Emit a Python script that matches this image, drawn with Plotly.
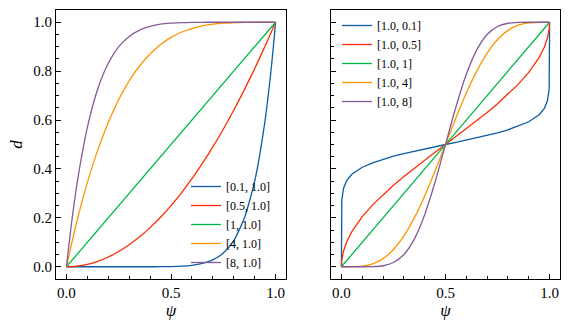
import plotly.graph_objects as go

# ---- data ----
psi = [0, 0.002, 0.01, 0.025, 0.05, 0.1, 0.15, 0.2, 0.25, 0.3, 0.35, 0.4, 0.45, 0.5,
       0.55, 0.6, 0.65, 0.7, 0.75, 0.8, 0.85, 0.9, 0.95, 0.975, 0.99, 0.998, 1.0]

left_names = ["[0.1, 1.0]", "[0.5, 1.0]", "[1, 1.0]", "[4, 1.0]", "[8, 1.0]"]
left_a01 = [0, 0, 0, 0, 0, 0, 0, 0, 0, 0, 0, 0.0001, 0.0003, 0.001, 0.0025, 0.006, 0.0135,
            0.028, 0.056, 0.107, 0.197, 0.349, 0.599, 0.776, 0.904, 0.980, 1.0]
left_a05 = [0, 0, 0.0001, 0.0006, 0.0025, 0.01, 0.0225, 0.04, 0.0625, 0.09, 0.1225, 0.16,
            0.2025, 0.25, 0.3025, 0.36, 0.4225, 0.49, 0.5625, 0.64, 0.7225, 0.81, 0.9025,
            0.9506, 0.9801, 0.996, 1.0]
left_a1 = [0, 0.002, 0.01, 0.025, 0.05, 0.1, 0.15, 0.2, 0.25, 0.3, 0.35, 0.4, 0.45, 0.5,
           0.55, 0.6, 0.65, 0.7, 0.75, 0.8, 0.85, 0.9, 0.95, 0.975, 0.99, 0.998, 1.0]
left_a4 = [0, 0.008, 0.039, 0.096, 0.186, 0.344, 0.478, 0.590, 0.684, 0.760, 0.822, 0.870,
           0.909, 0.938, 0.959, 0.974, 0.985, 0.992, 0.996, 0.998, 0.9995, 0.9999, 1.0,
           1.0, 1.0, 1.0, 1.0]
left_a8 = [0, 0.016, 0.077, 0.183, 0.337, 0.570, 0.728, 0.832, 0.900, 0.942, 0.968, 0.983,
           0.992, 0.996, 0.998, 0.9993, 0.9998, 0.9999, 1.0, 1.0, 1.0, 1.0, 1.0, 1.0, 1.0,
           1.0, 1.0]

right_names = ["[1.0, 0.1]", "[1.0, 0.5]", "[1.0, 1]", "[1.0, 4]", "[1.0, 8]"]
right_b01 = [0, 0.273, 0.320, 0.352, 0.378, 0.407, 0.425, 0.440, 0.452, 0.463, 0.473, 0.482,
             0.491, 0.5, 0.509, 0.518, 0.527, 0.537, 0.548, 0.560, 0.575, 0.593, 0.622,
             0.648, 0.680, 0.727, 1.0]
right_b05 = [0, 0.0285, 0.0638, 0.1011, 0.1436, 0.2048, 0.2532, 0.2952, 0.3333, 0.3690,
             0.4030, 0.4359, 0.4681, 0.5, 0.5319, 0.5641, 0.5970, 0.6310, 0.6667, 0.7048,
             0.7468, 0.7952, 0.8564, 0.8989, 0.9362, 0.9715, 1.0]
right_b1 = [0, 0.002, 0.01, 0.025, 0.05, 0.1, 0.15, 0.2, 0.25, 0.3, 0.35, 0.4, 0.45, 0.5,
            0.55, 0.6, 0.65, 0.7, 0.75, 0.8, 0.85, 0.9, 0.95, 0.975, 0.99, 0.998, 1.0]
right_b4 = [0, 0, 0, 0, 0.0002, 0.0027, 0.0121, 0.0333, 0.0706, 0.1260, 0.1998, 0.2898,
            0.3917, 0.5, 0.6083, 0.7102, 0.8002, 0.8740, 0.9294, 0.9667, 0.9879, 0.9973,
            0.9998, 1.0, 1.0, 1.0, 1.0]
right_b8 = [0, 0, 0, 0, 0, 0, 0.0006, 0.0042, 0.0173, 0.0500, 0.1132, 0.2131, 0.3465, 0.5,
            0.6535, 0.7869, 0.8868, 0.9500, 0.9827, 0.9958, 0.9994, 1.0, 1.0, 1.0, 1.0,
            1.0, 1.0]

x_ticks = [0.0, 0.5, 1.0]
y_ticks = [0.0, 0.2, 0.4, 0.6, 0.8, 1.0]

colors = ["#0C5DA5", "#FF2C00", "#00B945", "#FF9500", "#845B97"]
left_series = [left_a01, left_a05, left_a1, left_a4, left_a8]
right_series = [right_b01, right_b05, right_b1, right_b4, right_b8]
left_shapes = ["spline", "spline", "linear", "spline", "spline"]
right_shapes = ["linear", "linear", "linear", "spline", "spline"]

FONT = "Liberation Serif, serif"

fig = go.Figure()
for name, vals, col, shp in zip(left_names, left_series, colors, left_shapes):
    fig.add_trace(go.Scatter(x=psi, y=vals, mode="lines", name=name,
                             line=dict(color=col, width=1.3, shape=shp, smoothing=0.6),
                             xaxis="x", yaxis="y", legend="legend"))
for name, vals, col, shp in zip(right_names, right_series, colors, right_shapes):
    fig.add_trace(go.Scatter(x=psi, y=vals, mode="lines", name=name,
                             line=dict(color=col, width=1.3, shape=shp, smoothing=0.6),
                             xaxis="x2", yaxis="y2", legend="legend2"))

W, H = 569, 329
ydom = [(H - 279) / H, (H - 10) / H]

def xax(domain, anchor):
    return dict(domain=domain, anchor=anchor, range=[-0.05, 1.05],
                tickvals=x_ticks, ticktext=["0.0", "0.5", "1.0"],
                ticks="inside", ticklen=5, tickwidth=1, tickcolor="black",
                minor=dict(ticks="inside", ticklen=3, tickwidth=1, dtick=0.1, tick0=0,
                           tickcolor="black", showgrid=False),
                showline=True, mirror=True, linecolor="black", linewidth=1,
                showgrid=False, zeroline=False,
                tickfont=dict(family=FONT, size=15, color="black"),
                title=dict(text="<i>ψ</i>", font=dict(family=FONT, size=17, color="black"),
                           standoff=2))

def yax(anchor, labels):
    return dict(domain=ydom, anchor=anchor, range=[-0.05, 1.05],
                tickvals=y_ticks, ticktext=["0.0", "0.2", "0.4", "0.6", "0.8", "1.0"],
                showticklabels=labels,
                ticks="inside", ticklen=5, tickwidth=1, tickcolor="black",
                minor=dict(ticks="inside", ticklen=3, tickwidth=1, dtick=0.05, tick0=0,
                           tickcolor="black", showgrid=False),
                showline=True, mirror=True, linecolor="black", linewidth=1,
                showgrid=False, zeroline=False,
                tickfont=dict(family=FONT, size=15, color="black"))

yl = yax("x", True)
yl["title"] = dict(text="<i>d</i>", font=dict(family=FONT, size=17, color="black"), standoff=6)

fig.update_layout(
    width=W, height=H, margin=dict(l=0, r=0, t=0, b=0),
    paper_bgcolor="white", plot_bgcolor="white",
    font=dict(family=FONT, size=15, color="black"),
    xaxis=xax([56 / W, 286 / W], "y"),
    yaxis=yl,
    xaxis2=xax([331 / W, 560 / W], "y2"),
    yaxis2=yax("x2", False),
    legend=dict(x=186 / W, y=1 - 172 / H, xanchor="left", yanchor="top",
                bgcolor="rgba(0,0,0,0)", borderwidth=0, tracegroupgap=0,
                font=dict(family=FONT, size=12, color="black")),
    legend2=dict(x=337 / W, y=1 - 11 / H, xanchor="left", yanchor="top",
                 bgcolor="rgba(0,0,0,0)", borderwidth=0, tracegroupgap=0,
                 font=dict(family=FONT, size=12, color="black")),
    showlegend=True,
)

fig.write_html("out.html")
